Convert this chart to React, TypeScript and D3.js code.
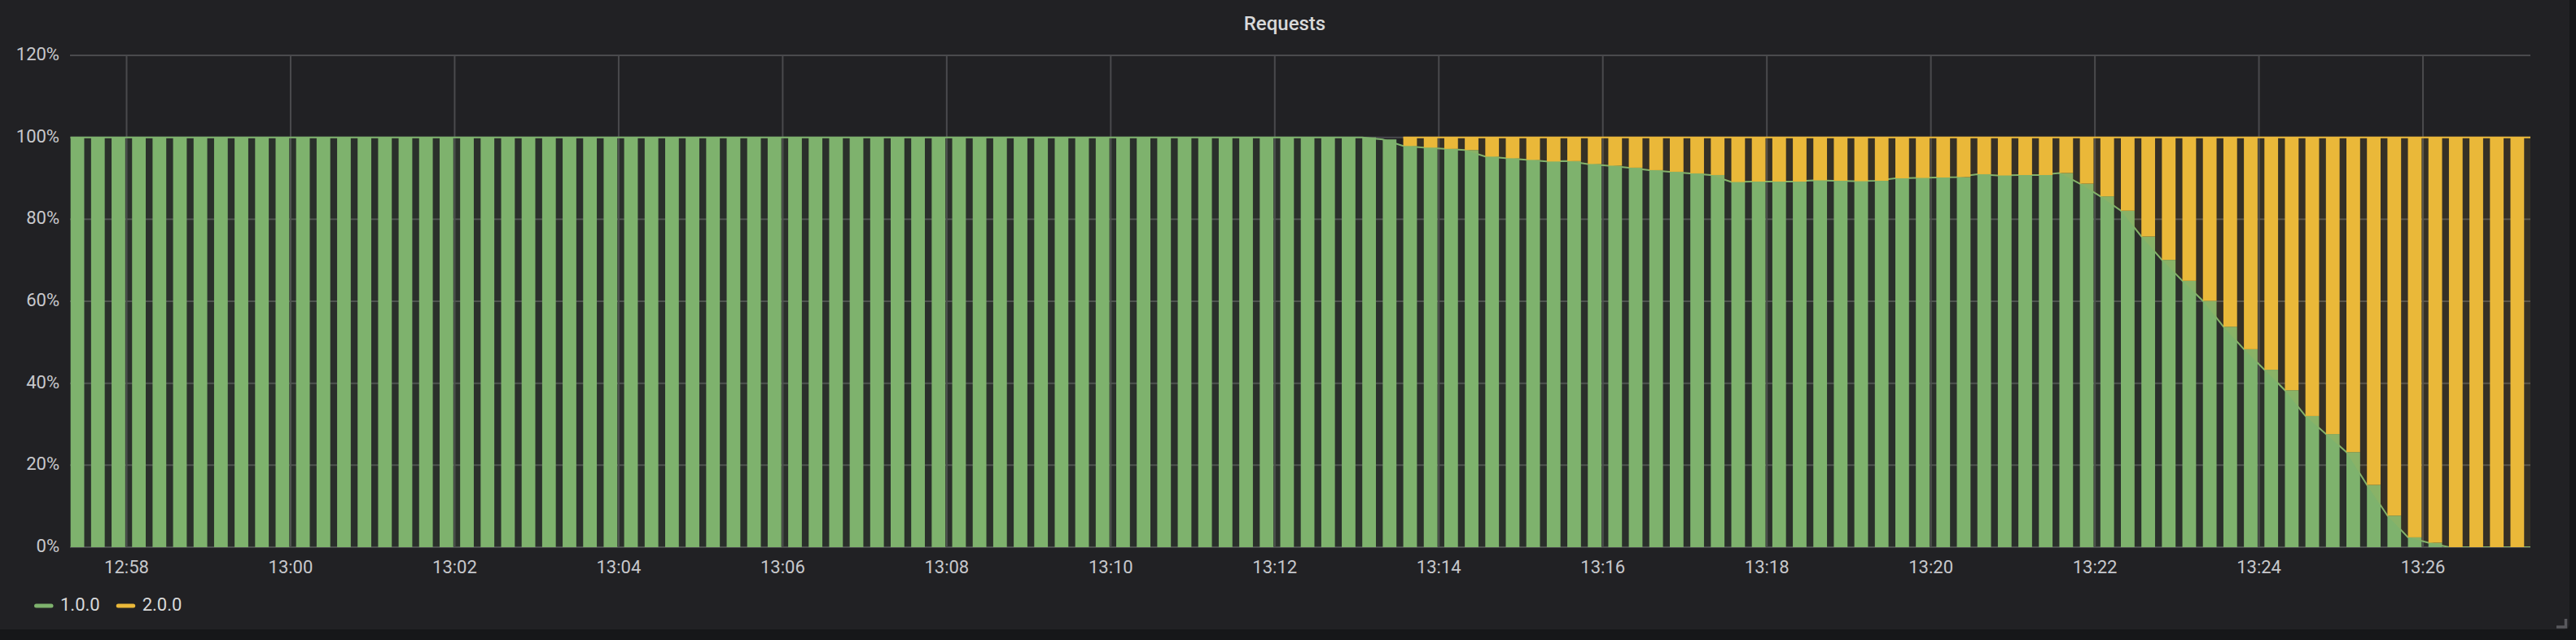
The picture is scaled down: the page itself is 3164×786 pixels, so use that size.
import React from "react";
import * as d3 from "d3";

const W = 3164;
const H = 786;

// time range: last 30 minutes, 15s resolution
const RANGE_START = Date.UTC(2021, 0, 1, 12, 57, 18, 600);
const RANGE_END = RANGE_START + 30 * 60 * 1000;
const FIRST_POINT = RANGE_START + 400;
const STEP_MS = 15000;

const seriesNames = ["1.0.0", "2.0.0"];
const seriesColors = ["#7EB26D", "#EAB839"];

// percentage of requests served by version 1.0.0
const v100: number[] = [
  100, 100, 100, 100, 100, 100, 100, 100, 100, 100,
  100, 100, 100, 100, 100, 100, 100, 100, 100, 100,
  100, 100, 100, 100, 100, 100, 100, 100, 100, 100,
  100, 100, 100, 100, 100, 100, 100, 100, 100, 100,
  100, 100, 100, 100, 100, 100, 100, 100, 100, 100,
  100, 100, 100, 100, 100, 100, 100, 100, 100, 100,
  100, 100, 100, 100, 99.5, 97.9, 97.5, 97.2, 96.9, 95.3,
  94.9, 94.5, 94.1, 94.2, 93.5, 93.1, 92.6, 92.0, 91.6, 91.2,
  90.8, 89.1, 89.2, 89.2, 89.2, 89.5, 89.4, 89.3, 89.4, 90.0,
  90.1, 90.2, 90.3, 91.0, 90.7, 90.8, 90.8, 91.3, 88.7, 85.6,
  82.1, 75.8, 70.1, 65.0, 60.1, 53.8, 48.3, 43.3, 38.3, 32.0,
  27.6, 23.2, 15.2, 7.7, 2.4, 1.1, 0, 0, 0, 0,
  0,
];

// percentage of requests served by version 2.0.0 (absent before the rollout)
const v200: (number | null)[] = [
  null, null, null, null, null, null, null, null, null, null,
  null, null, null, null, null, null, null, null, null, null,
  null, null, null, null, null, null, null, null, null, null,
  null, null, null, null, null, null, null, null, null, null,
  null, null, null, null, null, null, null, null, null, null,
  null, null, null, null, null, null, null, null, null, null,
  null, null, null, null, null, 2.1, 2.5, 2.8, 3.1, 4.7,
  5.1, 5.5, 5.9, 5.8, 6.5, 6.9, 7.4, 8.0, 8.4, 8.8,
  9.2, 10.9, 10.8, 10.8, 10.8, 10.5, 10.6, 10.7, 10.6, 10.0,
  9.9, 9.8, 9.7, 9.0, 9.3, 9.2, 9.2, 8.7, 11.3, 14.4,
  17.9, 24.2, 29.9, 35.0, 39.9, 46.2, 51.7, 56.7, 61.7, 68.0,
  72.4, 76.8, 84.8, 92.3, 97.6, 98.9, 100, 100, 100, 100,
  100,
];

const yTickValues = [0, 20, 40, 60, 80, 100, 120];

const times = v100.map((_, i) => FIRST_POINT + i * STEP_MS);

const PLOT = { left: 86, right: 3108, top: 68, bottom: 672 };

export default function App() {
  const x = d3
    .scaleUtc()
    .domain([new Date(RANGE_START), new Date(RANGE_END)])
    .range([PLOT.left, PLOT.right]);
  const y = d3.scaleLinear().domain([0, 120]).range([PLOT.bottom, PLOT.top]);
  const xTicks = x.ticks(d3.utcMinute.every(2) as any);
  const fmt = d3.utcFormat("%H:%M");
  const barMs = STEP_MS / 1.5;

  const raw: (number | null)[][] = [v100, v200];
  // stacking
  const layers = raw.map((vals, si) =>
    vals.map((v, i) => {
      if (v == null) return null;
      let base = 0;
      for (let k = 0; k < si; k++) {
        const pv = raw[k][i];
        if (pv != null) base += pv;
      }
      return [base, base + v] as [number, number];
    })
  );

  const idx = d3.range(times.length);

  const font = "Roboto, 'Noto Sans', sans-serif";

  return (
    <svg
      width={W}
      height={H}
      style={{ position: "absolute", left: 0, top: 0, display: "block" }}
    >
      <defs>
        <clipPath id="plotclip">
          <rect
            x={PLOT.left}
            y={PLOT.top - 2}
            width={PLOT.right - PLOT.left}
            height={PLOT.bottom - PLOT.top + 2}
          />
        </clipPath>
      </defs>
      <rect x={0} y={0} width={W} height={H} fill="#161719" />
      <rect x={-10} y={-10} width={3166} height={783} rx={6} fill="#212124" />

      <text
        x={1578}
        y={37}
        textAnchor="middle"
        fontFamily={font}
        fontWeight={500}
        fontSize={24}
        fill="#d8d9da"
      >
        Requests
      </text>

      {/* grid */}
      <g>
        {yTickValues.map((v) => (
          <line
            key={"gy" + v}
            x1={PLOT.left}
            x2={PLOT.right}
            y1={y(v)}
            y2={y(v)}
            stroke="#4a4a4d"
            strokeWidth={2}
          />
        ))}
        {xTicks.map((t) => (
          <line
            key={"gx" + t.getTime()}
            x1={x(t)}
            x2={x(t)}
            y1={PLOT.top}
            y2={PLOT.bottom}
            stroke="#4a4a4d"
            strokeWidth={2}
          />
        ))}
      </g>

      {/* series */}
      <g clipPath="url(#plotclip)">
        {layers.map((layer, si) => {
          const color = seriesColors[si];
          const area = d3
            .area<number>()
            .defined((i) => layer[i] != null)
            .x((i) => x(times[i]))
            .y0((i) => y(layer[i]![0]))
            .y1((i) => y(layer[i]![1]));
          const line = d3
            .line<number>()
            .defined((i) => layer[i] != null)
            .x((i) => x(times[i]))
            .y((i) => y(layer[i]![1]));
          return (
            <g key={"s" + si}>
              <path d={area(idx) || ""} fill={color} fillOpacity={0.1} />
              <path d={line(idx) || ""} fill="none" stroke={color} strokeWidth={2} />
              {idx.map((i) => {
                const s = layer[i];
                if (!s || s[1] - s[0] <= 0) return null;
                const x0 = x(times[i]);
                const x1 = x(times[i] + barMs);
                return (
                  <rect
                    key={i}
                    x={x0}
                    y={y(s[1])}
                    width={x1 - x0}
                    height={y(s[0]) - y(s[1])}
                    fill={color}
                  />
                );
              })}
            </g>
          );
        })}
      </g>

      {/* y axis labels */}
      {yTickValues.map((v) => (
        <text
          key={"yl" + v}
          x={73}
          y={y(v) + 6}
          textAnchor="end"
          fontFamily={font}
          fontSize={22}
          fill="#c7c8cc"
        >
          {v + "%"}
        </text>
      ))}

      {/* x axis labels */}
      {xTicks.map((t) => (
        <text
          key={"xl" + t.getTime()}
          x={x(t)}
          y={704}
          textAnchor="middle"
          fontFamily={font}
          fontSize={22}
          fill="#c7c8cc"
        >
          {fmt(t)}
        </text>
      ))}

      {/* legend */}
      {seriesNames.map((name, si) => {
        const lx = 42 + si * 100.7;
        return (
          <g key={"lg" + si}>
            <rect x={lx} y={741.5} width={23.5} height={5} rx={2.5} fill={seriesColors[si]} />
            <text x={lx + 32} y={750} fontFamily={font} fontSize={22} fill="#d8d9da">
              {name}
            </text>
          </g>
        );
      })}

      {/* resize handle */}
      <path d="M3140 770 H3151.5 V760" fill="none" stroke="#58585c" strokeWidth={3.5} />
    </svg>
  );
}
